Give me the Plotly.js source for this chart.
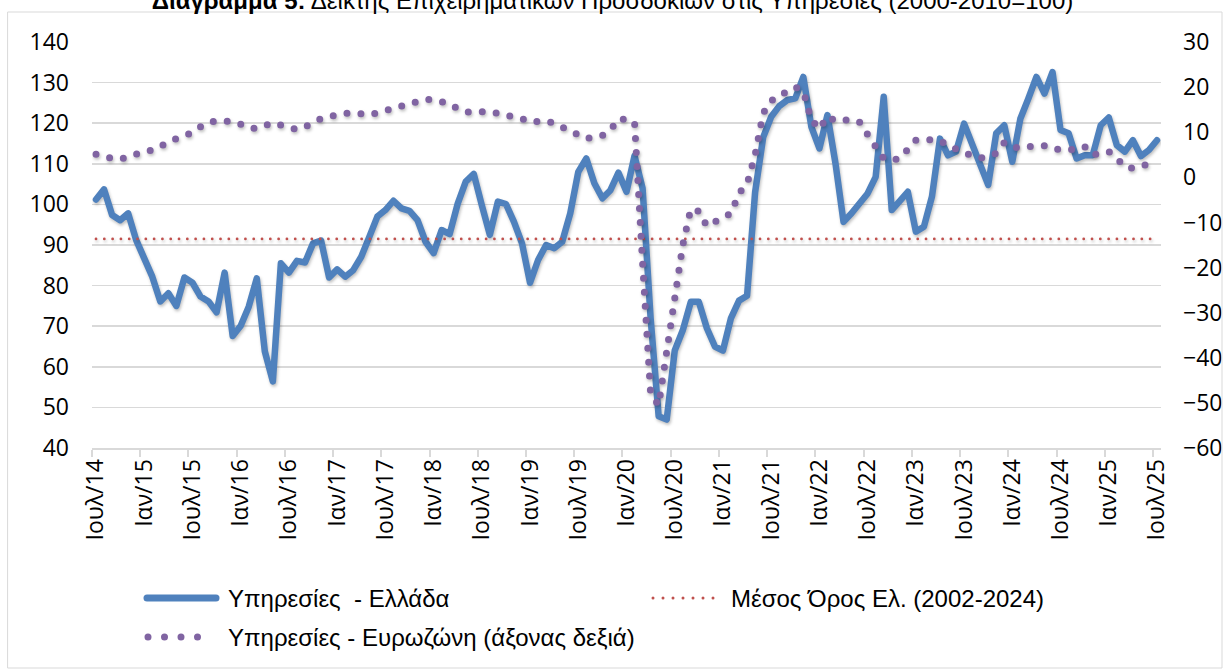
<!DOCTYPE html>
<html><head><meta charset="utf-8">
<script src="https://cdn.plot.ly/plotly-3.0.1.min.js"></script>
<style>
html,body{margin:0;padding:0;background:#fff;}
#chart{width:1225px;height:669px;}
.scatterlayer .js-line{stroke-linecap:round !important;stroke-linejoin:round !important;filter:drop-shadow(1.5px 2.5px 1.5px rgba(0,0,0,0.25));}
.shapelayer path{stroke-linecap:round;}
</style></head><body><div id="chart"></div>
<script>
// Month names and years for the category axis (Jul 2014 - Jul 2025)
const monthNames = ['Ιαν','Φεβ','Μαρ','Απρ','Μαϊ','Ιουν','Ιουλ','Αυγ','Σεπ','Οκτ','Νοε','Δεκ'];
const startYear = 2014, startMonth = 6, nMonths = 133;
const categories = [];
for (let k = 0; k < nMonths; k++) {
  const m = (startMonth + k) % 12;
  const y = startYear + Math.floor((startMonth + k) / 12);
  categories.push(monthNames[m] + '/' + String(y).slice(2));
}

// Services confidence – Greece (left axis)
const greece = [101.2,103.7,97.4,96.1,97.8,91.2,86.7,82.2,76.1,78.1,
75.0,82.0,80.7,77.3,76.1,73.4,83.2,67.6,70.1,74.8,
81.8,63.8,56.4,85.5,83.2,86.1,85.7,90.4,91.1,82.0,
84.0,82.2,83.8,87.1,92.0,97.0,98.6,100.9,99.0,98.4,
96.1,90.8,88.0,93.7,92.7,100.2,105.6,107.5,99.8,92.5,
100.7,100.1,95.7,90.4,80.7,86.3,90.0,89.2,90.8,97.8,
108.0,111.3,105.2,101.5,103.5,107.8,103.1,112.0,104.0,72.0,
47.8,47.0,64.0,69.0,76.0,76.0,69.5,65.0,64.0,72.0,
76.3,77.5,103.0,116.5,121.6,124.2,125.7,126.1,131.4,119.1,
113.8,122.0,110.1,95.7,97.8,100.2,102.7,106.8,126.5,98.6,
100.7,103.1,93.3,94.5,101.9,116.2,112.1,113.0,119.9,115.0,
110.1,104.8,117.5,119.5,110.5,121.1,126.1,131.4,127.3,132.6,
118.3,117.5,111.3,112.1,112.1,119.5,121.4,114.6,113.0,115.8,
111.9,113.4,115.8];

// Services confidence – Euro area (right axis)
const euro = [5.1,4.5,4.2,4.0,4.6,5.4,5.7,6.0,7.0,8.0,
8.6,9.3,9.9,11.2,12.2,12.5,12.5,12.4,11.8,11.0,
10.8,11.5,12.1,11.6,11.0,10.6,11.2,12.2,13.0,13.5,
14.0,14.2,14.3,14.0,13.9,14.3,14.8,15.5,15.9,16.3,
17.0,17.3,17.2,16.8,16.3,15.2,14.5,14.5,14.5,14.6,
14.2,13.8,13.5,13.0,12.3,12.4,12.5,12.0,11.2,10.0,
9.2,8.6,8.9,9.3,10.5,13.0,12.8,12.2,-19.0,-48.0,
-50.5,-38.5,-29.0,-15.0,-7.0,-7.5,-10.8,-10.0,-9.1,-8.0,
-3.5,-1.5,5.0,14.2,17.0,17.8,19.2,20.0,19.0,12.8,
10.7,13.5,12.5,12.5,12.8,12.2,9.2,6.8,4.2,3.8,
4.2,6.4,8.2,8.4,8.2,8.2,7.0,6.2,5.6,4.8,
4.3,4.6,5.3,7.7,6.7,6.5,6.8,6.9,7.0,6.3,
6.0,6.0,6.4,6.8,5.0,5.4,5.7,4.2,2.4,2.0,
2.5,3.0];

// Greek long-run average (2002-2024)
const meanGR = 91.5;

const seriesNames = ['Υπηρεσίες\u00a0 - Ελλάδα', 'Μέσος Όρος Ελ. (2002-2024)', 'Υπηρεσίες - Ευρωζώνη (άξονας δεξιά)'];
const colors = {gr:'#4f81bd', mean:'#c0504d', ez:'#8064a2'};

const tickFont = {family:'Open Sans, Noto Sans, sans-serif', size:23, color:'#000'};
const legFont = {family:'Liberation Sans, sans-serif', size:24, color:'#000'};

const traces = [
  {x:categories, y:greece, type:'scatter', mode:'lines', name:seriesNames[0],
   line:{color:colors.gr, width:6.5}},
  {x:[categories[0], categories[nMonths-1]], y:[meanGR, meanGR], type:'scatter', mode:'lines', name:seriesNames[1],
   line:{color:colors.mean, width:2.8, dash:'0px,8.3px'}, hoverinfo:'skip'},
  {x:categories.slice(0, euro.length), y:euro, type:'scatter', mode:'lines', name:seriesNames[2], yaxis:'y2',
   line:{color:colors.ez, width:7, dash:'0px,14px'}}
];

// plot area: x 92..1161, y 42..448
const L=92, R=1161, T=42, B=448;
const px = v => (v - L) / (R - L);
const py = v => (B - v) / (B - T);

const layout = {
  width:1225, height:669,
  margin:{l:L, r:1225-R, t:T, b:669-B, pad:0},
  paper_bgcolor:'#fff', plot_bgcolor:'#fff',
  showlegend:false,
  title:{text:'<b>Διάγραμμα 5:</b> Δείκτης Επιχειρηματικών Προσδοκιών στις Υπηρεσίες (2000-2010=100)',
    font:{family:'Liberation Sans, sans-serif', size:24, color:'#000'},
    x:0.5, xref:'container', xanchor:'center', y:0.9865, yref:'container', yanchor:'bottom'},
  xaxis:{type:'category', categoryorder:'array', categoryarray:categories,
    range:[-0.5, nMonths-0.5], autorange:false,
    tickmode:'linear', tick0:0, dtick:6, tickson:'boundaries',
    ticks:'outside', ticklen:7, tickwidth:2, tickcolor:'#d9d9d9',
    showline:true, linecolor:'#d9d9d9', linewidth:2, showgrid:false, zeroline:false,
    tickangle:-90, tickfont:tickFont},
  yaxis:{range:[40,140], autorange:false, tickmode:'linear', tick0:40, dtick:10,
    showgrid:true, gridcolor:'#d9d9d9', gridwidth:1.5, zeroline:false, showline:false,
    ticks:'', tickfont:tickFont, ticklabelstandoff:22},
  yaxis2:{range:[-60,30], autorange:false, tickmode:'linear', tick0:-60, dtick:10,
    overlaying:'y', side:'right', showgrid:false, zeroline:false, showline:false,
    ticks:'', tickfont:tickFont, ticklabelstandoff:21},
  shapes:[
    {type:'rect', xref:'paper', yref:'paper', x0:px(8), x1:px(1222), y0:py(668), y1:py(12),
     line:{color:'#d9d9d9', width:1}, fillcolor:'rgba(0,0,0,0)'},
    {type:'line', xref:'paper', yref:'paper', x0:px(147), x1:px(216), y0:py(598), y1:py(598),
     line:{color:colors.gr, width:7}},
    {type:'line', xref:'paper', yref:'paper', x0:px(653), x1:px(723), y0:py(598), y1:py(598),
     line:{color:colors.mean, width:3, dash:'0px,10px'}},
    {type:'line', xref:'paper', yref:'paper', x0:px(148), x1:px(214), y0:py(637), y1:py(637),
     line:{color:colors.ez, width:7, dash:'0px,16.5px'}}
  ],
  annotations:[
    {xref:'paper', yref:'paper', x:px(226), y:py(598), xanchor:'left', yanchor:'middle', showarrow:false, text:seriesNames[0], font:legFont},
    {xref:'paper', yref:'paper', x:px(729), y:py(598), xanchor:'left', yanchor:'middle', showarrow:false, text:seriesNames[1], font:legFont},
    {xref:'paper', yref:'paper', x:px(226), y:py(637), xanchor:'left', yanchor:'middle', showarrow:false, text:seriesNames[2], font:legFont}
  ]
};

Plotly.newPlot('chart', traces, layout, {displayModeBar:false, staticPlot:true});
</script>
</body></html>
